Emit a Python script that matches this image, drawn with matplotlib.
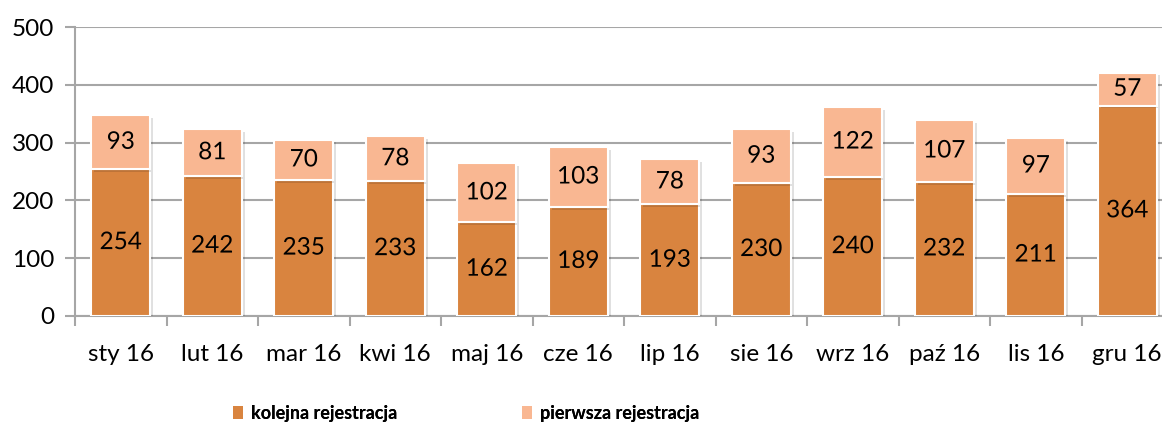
import matplotlib
matplotlib.use("Agg")
import matplotlib.pyplot as plt
import matplotlib.patheffects as pe
from matplotlib.patches import Patch
from matplotlib import font_manager
import numpy as np

categories = ["sty 16", "lut 16", "mar 16", "kwi 16", "maj 16", "cze 16",
              "lip 16", "sie 16", "wrz 16", "paź 16", "lis 16", "gru 16"]
kolejna = [254, 242, 235, 233, 162, 189, 193, 230, 240, 232, 211, 364]
pierwsza = [93, 81, 70, 78, 102, 103, 78, 93, 122, 107, 97, 57]
series_names = ["kolejna rejestracja", "pierwsza rejestracja"]
yticks = [0, 100, 200, 300, 400, 500]

dark = "#D9843F"
light = "#F9B792"
grid_c = "#A6A6A6"

plt.rcParams['font.family'] = ['Lato', 'DejaVu Sans']
names = {f.name for f in font_manager.fontManager.ttflist}
leg_family = ['Liberation Sans Narrow'] if 'Liberation Sans Narrow' in names else ['Lato']
leg_size = 14.5 if leg_family[0] == 'Liberation Sans Narrow' else 13

fig = plt.figure(figsize=(11.62, 4.26), dpi=100)
ax = fig.add_axes([75/1162, 1 - 316/426, (12*91.5)/1162, (316-27)/426])

x = np.arange(len(categories))
w = 0.645
shadow = [pe.SimplePatchShadow(offset=(2, -2), alpha=0.12, shadow_rgbFace="k"), pe.Normal()]
b1 = ax.bar(x, kolejna, w, color=dark, edgecolor="white", linewidth=1.5, zorder=3)
b2 = ax.bar(x, pierwsza, w, bottom=kolejna, color=light, edgecolor="white",
            linewidth=1.5, zorder=3)
for b in list(b1) + list(b2):
    b.set_path_effects(shadow)

fs = 17.5
for i in range(len(categories)):
    t = ax.text(x[i], kolejna[i] / 2, str(kolejna[i]), ha="center", va="center",
                fontsize=fs, color="black", zorder=5)
    t.set_path_effects([pe.SimpleLineShadow(offset=(1.5, -1.5), alpha=0.3), pe.Normal()])
    t2 = ax.text(x[i], kolejna[i] + pierwsza[i] / 2, str(pierwsza[i]), ha="center",
                 va="center", fontsize=fs, color="black", zorder=5)
    t2.set_path_effects([pe.SimpleLineShadow(offset=(1.5, -1.5), alpha=0.3), pe.Normal()])

ax.set_xlim(-0.5, len(categories) - 0.5)
ax.set_ylim(0, 500)
ax.set_yticks(yticks)
ax.set_yticklabels([str(v) for v in yticks], fontsize=fs)
ax.set_xticks(x)
ax.set_xticklabels(categories, fontsize=fs)
ax.tick_params(axis="x", length=0, pad=20)
ax.set_xticks(np.arange(-0.5, len(categories), 1), minor=True)
ax.tick_params(axis="x", which="minor", length=7, color=grid_c, width=1.5)
ax.tick_params(axis="y", length=7, color=grid_c, width=1.5, pad=8)

ax.grid(axis="y", color=grid_c, linewidth=1.5, zorder=0)
ax.set_axisbelow(True)
for s in ["top", "right"]:
    ax.spines[s].set_visible(False)
ax.spines["left"].set_color(grid_c)
ax.spines["left"].set_linewidth(1.5)
ax.spines["bottom"].set_color(grid_c)
ax.spines["bottom"].set_linewidth(1.5)

yleg = 1 - 413/426
for color, name, xpos in [(dark, series_names[0], 233/1162), (light, series_names[1], 522/1162)]:
    lg = fig.legend(handles=[Patch(facecolor=color, edgecolor="none")], labels=[name],
                    loc="center left", bbox_to_anchor=(xpos, yleg), frameon=False,
                    borderpad=0, borderaxespad=0,
                    prop={"weight": "bold", "size": leg_size, "family": leg_family},
                    handlelength=0.55, handleheight=0.75, handletextpad=0.45)
    fig.add_artist(lg)

fig.savefig("out.png", dpi=100)
